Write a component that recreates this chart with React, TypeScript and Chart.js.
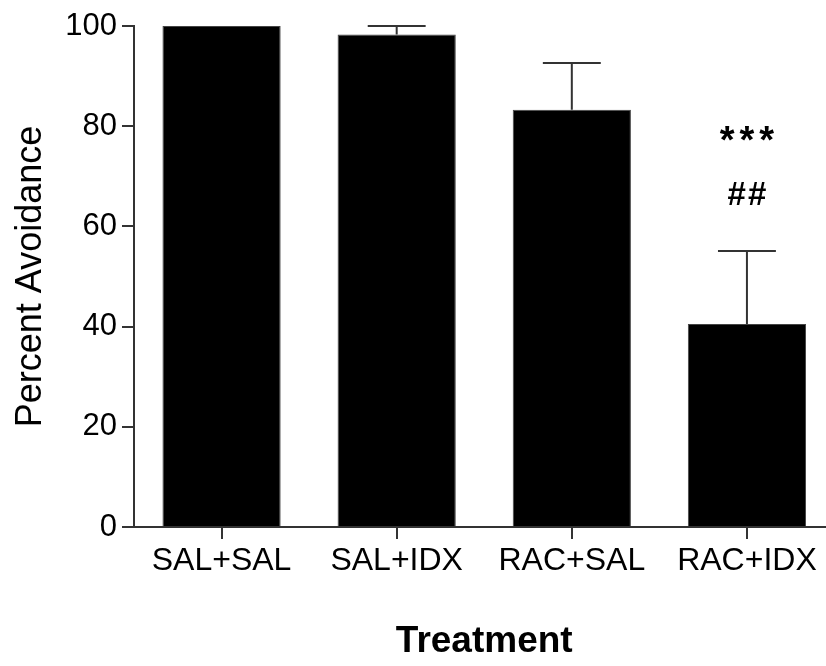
import React, { useEffect, useRef } from "react";
import { Chart, registerables } from "chart.js";

Chart.register(...registerables);

const categories = ["SAL+SAL", "SAL+IDX", "RAC+SAL", "RAC+IDX"];
const meanValues = [100, 98.3, 83.3, 40.5];
const semValues = [0, 1.7, 9.3, 14.6];
const yTicks = [0, 20, 40, 60, 80, 100];
const annotations = [
  { index: 3, text: "***", level: 76.8, size: 38, spacing: 5, weight: "bold" },
  { index: 3, text: "##", level: 66.0, size: 33, spacing: 2, weight: "bold" },
];

const FONT = '"Liberation Sans", Arial, sans-serif';
const AXIS_COLOR = "#333333";

const errorBarPlugin = {
  id: "errorBars",
  afterDatasetsDraw(chart: any) {
    const ctx = chart.ctx;
    const meta = chart.getDatasetMeta(0);
    const y = chart.scales.y;
    ctx.save();
    ctx.strokeStyle = AXIS_COLOR;
    ctx.lineWidth = 2;
    meta.data.forEach((bar: any, i: number) => {
      const sem = semValues[i];
      if (!sem) return;
      const x = bar.x;
      const yb = y.getPixelForValue(meanValues[i]);
      const yt = y.getPixelForValue(meanValues[i] + sem);
      const half = bar.width * 0.245;
      ctx.beginPath();
      ctx.moveTo(x, yb);
      ctx.lineTo(x, yt);
      ctx.moveTo(x - half, yt);
      ctx.lineTo(x + half, yt);
      ctx.stroke();
    });
    ctx.fillStyle = "#000";
    ctx.textAlign = "center";
    ctx.textBaseline = "middle";
    annotations.forEach((a) => {
      const bar = meta.data[a.index];
      ctx.font = `${a.weight} ${a.size}px ${FONT}`;
      (ctx as any).letterSpacing = `${a.spacing}px`;
      ctx.fillText(a.text, bar.x + a.spacing / 2, y.getPixelForValue(a.level));
    });
    ctx.restore();
  },
};

export default function App() {
  const canvasRef = useRef<HTMLCanvasElement | null>(null);

  useEffect(() => {
    if (!canvasRef.current) return;
    const chart = new Chart(canvasRef.current, {
      type: "bar",
      data: {
        labels: categories,
        datasets: [
          {
            data: meanValues,
            backgroundColor: "#000000",
            borderColor: "#444444",
            borderWidth: 1,
            barPercentage: 0.675,
            categoryPercentage: 1,
          },
        ],
      },
      options: {
        responsive: false,
        animation: false,
        devicePixelRatio: 1,
        layout: { padding: { top: 26, right: 25.5, bottom: 0, left: 0 } },
        plugins: {
          legend: { display: false },
          tooltip: { enabled: false },
        },
        scales: {
          x: {
            afterFit(scale: any) {
              scale.height = 139;
            },
            grid: {
              offset: false,
              drawOnChartArea: false,
              drawTicks: true,
              tickLength: 12,
              color: AXIS_COLOR,
              lineWidth: 2,
            },
            border: { display: true, color: AXIS_COLOR, width: 2 },
            ticks: {
              color: "#000",
              font: { family: FONT, size: 32 },
              padding: 3,
              maxRotation: 0,
            },
            title: {
              display: true,
              text: "Treatment",
              color: "#000",
              font: { family: FONT, size: 37, weight: "bold" },
              padding: { top: 0, bottom: 2 },
            },
          },
          y: {
            min: 0,
            max: 100,
            afterFit(scale: any) {
              scale.width = 134;
            },
            afterBuildTicks(scale: any) {
              scale.ticks = yTicks.map((v) => ({ value: v }));
            },
            grid: {
              drawOnChartArea: false,
              drawTicks: true,
              tickLength: 12,
              color: AXIS_COLOR,
              lineWidth: 2,
            },
            border: { display: true, color: AXIS_COLOR, width: 2 },
            ticks: {
              color: "#000",
              font: { family: FONT, size: 31 },
              padding: 5,
            },
            title: {
              display: true,
              text: "Percent Avoidance",
              color: "#000",
              font: { family: FONT, size: 36 },
              padding: { top: 9, bottom: 0 },
            },
          },
        },
      },
      plugins: [errorBarPlugin],
    });
    return () => chart.destroy();
  }, []);

  return (
    <div
      style={{
        position: "fixed",
        left: 0,
        top: 0,
        width: 826,
        height: 666,
        overflow: "hidden",
        background: "#fff",
      }}
    >
      <canvas
        ref={canvasRef}
        width={860}
        height={666}
        style={{ width: 860, height: 666, display: "block" }}
      />
    </div>
  );
}
